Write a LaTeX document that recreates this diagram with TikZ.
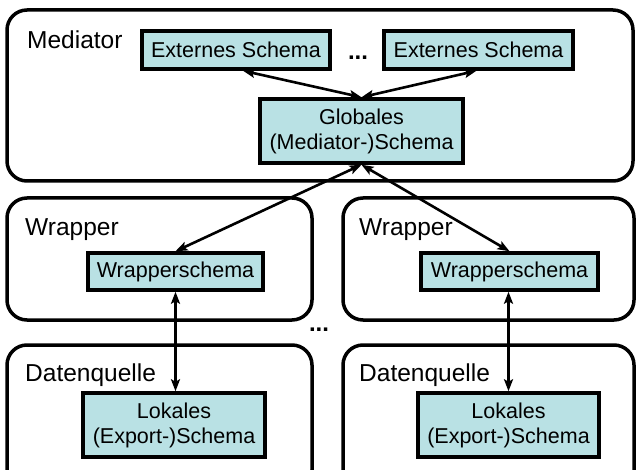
\documentclass[tikz,border=0pt]{standalone}
\usepackage{fontspec}
\setmainfont{Liberation Sans}
\usetikzlibrary{arrows.meta,calc}
\definecolor{schemafill}{RGB}{185,225,228}
\tikzset{
  layer/.style={draw=black, line width=3.5pt, rounded corners=20pt},
  schemabox/.style={draw=black, line width=3.5pt, fill=schemafill, inner sep=0pt,
    align=center, font=\fontsize{21.5}{25}\selectfont},
  layerlabel/.style={anchor=base west, inner sep=0pt, font=\fontsize{24.5}{28}\selectfont},
  dots/.style={inner sep=0pt, font=\fontsize{24}{28}\selectfont\bfseries},
  link/.style={line width=2.6pt, {Stealth[length=12pt,width=9pt,inset=2.5pt]}-{Stealth[length=12pt,width=9pt,inset=2.5pt]}}
}
\begin{document}
\begin{tikzpicture}[x=1pt, y=-1pt]
\useasboundingbox (0,0) rectangle (636,470);
\begin{scope}
\clip (0,0) rectangle (636,470);
% layer frames
\draw[layer] (7,10) rectangle (633,181);
\draw[layer] (7,198) rectangle (312,320);
\draw[layer] (343,198) rectangle (634,320);
\draw[layer] (7,345) rectangle (312,490);
\draw[layer] (343,345) rectangle (634,490);
\end{scope}
% layer labels
\node[layerlabel] (lmed) at (27,49) {Mediator};
\node[layerlabel] (lwr1) at (25,235) {Wrapper};
\node[layerlabel] (lwr2) at (359,235) {Wrapper};
\node[layerlabel] (ldq1) at (25,381) {Datenquelle};
\node[layerlabel] (ldq2) at (359,381) {Datenquelle};
% schemas
\node[schemabox, minimum width=188pt, minimum height=38pt] (E1) at (236,50) {Externes Schema};
\node[schemabox, minimum width=189pt, minimum height=38pt] (E2) at (478.5,50) {Externes Schema};
\node[schemabox, minimum width=203pt, minimum height=64pt] (G) at (361.5,131) {Globales\\(Mediator-)Schema};
\node[schemabox, minimum width=175pt, minimum height=37pt] (W1) at (175.5,271.5) {Wrapperschema};
\node[schemabox, minimum width=177pt, minimum height=37pt] (W2) at (509.5,271.5) {Wrapperschema};
\node[schemabox, minimum width=182pt, minimum height=64pt] (L1) at (174,425) {Lokales\\(Export-)Schema};
\node[schemabox, minimum width=181pt, minimum height=64pt] (L2) at (508.5,425) {Lokales\\(Export-)Schema};
% ellipses
\node[dots, anchor=base] (d1) at (358,60) {...};
\node[dots, anchor=base] (d2) at (319,331) {...};
% mappings
\draw[link] ([xshift=7pt]E1.south) -- (G.north);
\draw[link] ([xshift=-2pt]E2.south) -- (G.north);
\draw[link] (G.south) -- (W1.north);
\draw[link] (G.south) -- (W2.north);
\draw[link] (W1.south) -- (W1.south |- L1.north);
\draw[link] ([xshift=-1pt]W2.south) -- ([xshift=-1pt]W2.south |- L2.north);
\end{tikzpicture}
\end{document}
